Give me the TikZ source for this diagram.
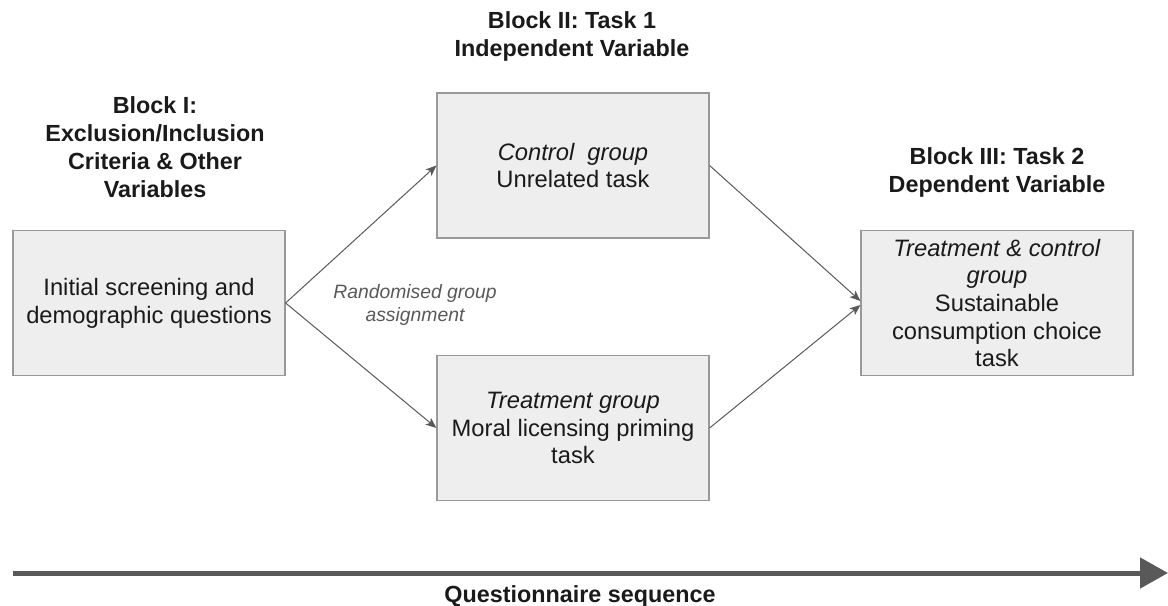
\documentclass[tikz,border=0pt]{standalone}
\usepackage{fontspec}
\setmainfont{Liberation Sans}
\usetikzlibrary{arrows.meta}
\definecolor{boxfill}{HTML}{EEEEEE}
\definecolor{boxline}{HTML}{999999}
\definecolor{arrowgray}{HTML}{595959}
\definecolor{txt}{HTML}{1A1A1A}
\begin{document}
\begin{tikzpicture}[x=0.75pt,y=-0.75pt,
  stagebox/.style={draw=boxline,fill=boxfill,line width=0.9pt,minimum width=204pt,minimum height=108.75pt,inner sep=0pt,align=center,text=txt,font=\fontsize{17.8}{20.8}\selectfont},
  blocktitle/.style={align=center,text=txt,font=\fontsize{17.5}{21}\selectfont\bfseries},
  flow/.style={draw=arrowgray,line width=0.75pt,-{Stealth[length=8pt,width=6.5pt,inset=2pt]}},
  note/.style={align=center,text=arrowgray,font=\fontsize{14.5}{17.5}\selectfont\itshape}]
\useasboundingbox (0,0) rectangle (1168,606);
\node[stagebox] (init) at (149,303) {Initial screening and\\demographic questions};
\node[stagebox] (ctrl) at (573,165.5) {\textit{Control\ \ group}\\Unrelated task};
\node[stagebox] (treat) at (573,428) {\textit{Treatment group}\\Moral licensing priming\\task};
\node[stagebox] (dep) at (997,303) {\textit{Treatment \& control}\\\textit{group}\\Sustainable\\consumption choice\\task};
\node[blocktitle] (b1) at (155,147) {Block I:\\Exclusion/Inclusion\\Criteria \& Other\\Variables};
\node[blocktitle] (b2) at (572,36) {Block II: Task 1\\Independent Variable};
\node[blocktitle] (b3) at (997,172) {Block III: Task 2\\Dependent Variable};
\node[note] (rand) at (415,305) {Randomised group\\assignment};
\draw[flow] (init.east) -- (ctrl.west);
\draw[flow] (init.east) -- (treat.west);
\draw[flow] (ctrl.east) -- ([yshift=1.5pt]dep.west);
\draw[flow] (treat.east) -- ([yshift=-1.5pt]dep.west);
\coordinate (seqstart) at (13,573);
\coordinate (seqend) at (1168,573);
\draw[draw=arrowgray,fill=arrowgray,line width=3.75pt,-{Triangle[length=21pt,width=22.5pt]}] (seqstart) -- (seqend);
\node[blocktitle] (seq) at (580,596) {Questionnaire sequence};
\end{tikzpicture}
\end{document}
